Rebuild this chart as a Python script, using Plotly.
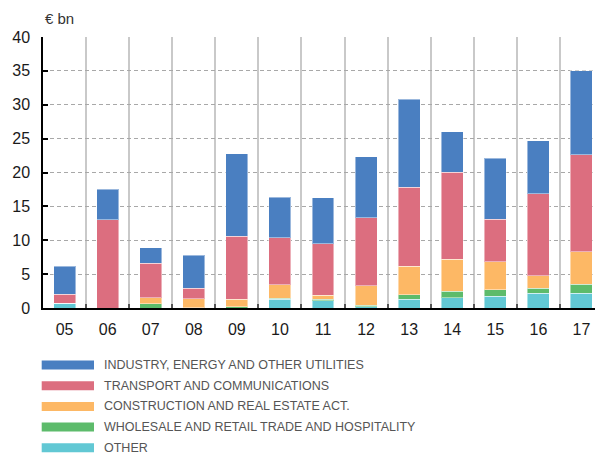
import plotly.graph_objects as go

years = ["05", "06", "07", "08", "09", "10", "11", "12", "13", "14", "15", "16", "17"]
other = [0.7, 0.0, 0.0, 0.0, 0.0, 1.3, 1.1, 0.2, 1.3, 1.5, 1.7, 2.15, 2.2]
wholesale = [0.0, 0.0, 0.6, 0.05, 0.15, 0.15, 0.2, 0.2, 0.65, 1.0, 1.0, 0.8, 1.3]
construction = [0.0, 0.0, 0.9, 1.35, 1.15, 1.95, 0.6, 2.9, 4.2, 4.7, 4.1, 1.8, 4.8]
transport = [1.3, 13.0, 5.1, 1.5, 9.3, 7.0, 7.6, 10.0, 11.7, 12.85, 6.3, 12.1, 14.3]
industry = [4.2, 4.5, 2.3, 4.9, 12.2, 5.95, 6.8, 9.0, 12.95, 6.0, 9.0, 7.85, 12.4]

series = [
    ("OTHER", other, "#62C8D4"),
    ("WHOLESALE AND RETAIL TRADE AND HOSPITALITY", wholesale, "#5DBB6B"),
    ("CONSTRUCTION AND REAL ESTATE ACT.", construction, "#FDB865"),
    ("TRANSPORT AND COMMUNICATIONS", transport, "#DC6E7F"),
    ("INDUSTRY, ENERGY AND OTHER UTILITIES", industry, "#4A7FC1"),
]

# page body has an 8px default margin; figure is sized to fit
OFF = 8
W, H = 603 - OFF, 457 - OFF
ML, MT, MB = 43 - OFF, 37 - OFF, 149
PW = W - ML
PH = H - MT - MB

fig = go.Figure()
for name, vals, col in series:
    fig.add_trace(go.Bar(
        x=years, y=vals, name=name, marker_color=col,
        marker_line=dict(color="rgba(255,255,255,0.45)", width=1),
        showlegend=False,
    ))

fig.update_layout(
    width=W, height=H,
    barmode="stack", bargap=0.49,
    margin=dict(l=ML, r=0, t=MT, b=MB),
    plot_bgcolor="white", paper_bgcolor="white",
    font=dict(family="Liberation Sans, Arial, sans-serif", size=16, color="#1a1a1a"),
)
fig.update_xaxes(
    type="category", tickson="boundaries",
    showgrid=True, gridcolor="#c9c9c9", gridwidth=1.5,
    showline=True, linecolor="black", linewidth=1.5,
    ticks="inside", ticklen=4, tickcolor="#555", tickwidth=2,
    ticklabelstandoff=6,
)
fig.update_yaxes(
    range=[0, 40], dtick=5,
    showgrid=True, gridcolor="#a8a8a8", gridwidth=1, griddash="4px,3px",
    showline=True, linecolor="black", linewidth=1.5,
    ticks="inside", ticklen=5, tickcolor="black", tickwidth=1.5,
    ticklabelstandoff=8, zeroline=False,
)

fig.add_annotation(text="€ bn", xref="paper", yref="paper", x=0, y=1,
                   xanchor="left", yanchor="bottom", yshift=8, showarrow=False,
                   font=dict(size=15, color="#333"))

# custom legend (wide swatches), positions in page pixels
legend_order = list(reversed(series))
top_px = 365
step_px = 20.7
for i, (name, vals, col) in enumerate(legend_order):
    yc = top_px + i * step_px
    yp = (457 - 149 - yc) / (PH + 0.0) if False else (308 - yc) / PH
    hh = 4.5 / PH
    fig.add_shape(type="rect", xref="paper", yref="paper",
                  x0=-1.3 / PW, x1=51 / PW, y0=yp - hh, y1=yp + hh,
                  fillcolor=col, line_width=0, layer="above")
    fig.add_annotation(text=name, xref="paper", yref="paper",
                       x=59 / PW, y=yp, xanchor="left", yanchor="middle",
                       showarrow=False,
                       font=dict(family="Liberation Sans Narrow, Arial Narrow, Liberation Sans, sans-serif",
                                 size=12.5, color="#555"))

fig.write_html("out.html")
